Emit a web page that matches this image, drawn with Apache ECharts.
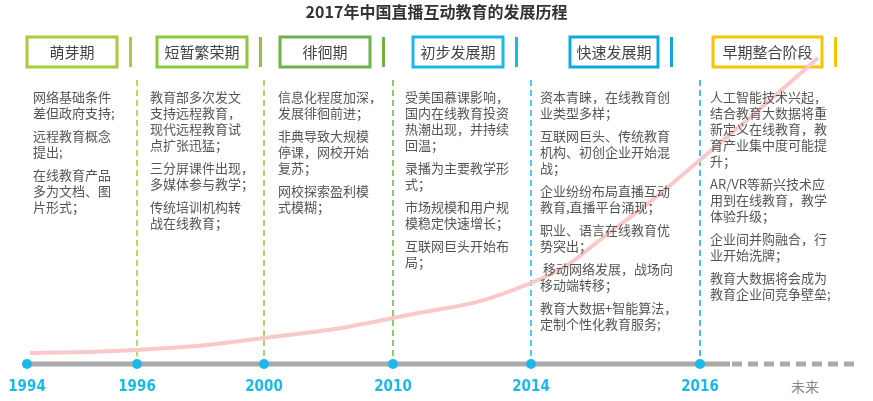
<!DOCTYPE html>
<html>
<head>
<meta charset="utf-8">
<script src="https://cdn.jsdelivr.net/npm/echarts@6/dist/echarts.min.js"></script>
<style>html,body{margin:0;padding:0;background:#fff}#main{width:873px;height:401px}</style>
</head>
<body>
<div id="main"></div>
<script>
var title = '2017年中国直播互动教育的发展历程';
var years = ['1994', '1996', '2000', '2010', '2014', '2016'];
var yearX = [27, 137, 264, 393, 531, 700];
var stages = ['萌芽期', '短暂繁荣期', '徘徊期', '初步发展期', '快速发展期', '早期整合阶段'];
var stageColors = ['#a8cc3c', '#8dc641', '#6db34a', '#1cb8e6', '#12a8dc', '#f6c500'];
// 发展趋势曲线
var trendX = [30, 137, 264, 393, 531, 617, 700, 818];
var trendY = [353, 350, 338, 318, 283, 227, 160, 58];
var notes = [
    [['网络基础条件', '差但政府支持;'], ['远程教育概念', '提出;'], ['在线教育产品', '多为文档、图', '片形式；']],
    [['教育部多次发文', '支持远程教育，', '现代远程教育试', '点扩张迅猛；'], ['三分屏课件出现，', '多媒体参与教学；'], ['传统培训机构转', '战在线教育；']],
    [['信息化程度加深，', '发展徘徊前进；'], ['非典导致大规模', '停课，网校开始', '复苏；'], ['网校探索盈利模', '式模糊；']],
    [['受美国慕课影响，', '国内在线教育投资', '热潮出现，并持续', '回温；'], ['录播为主要教学形', '式；'], ['市场规模和用户规', '模稳定快速增长；'], ['互联网巨头开始布', '局；']],
    [['资本青睐，在线教育创', '业类型多样；'], ['互联网巨头、传统教育', '机构、初创企业开始混', '战；'], ['企业纷纷布局直播互动', '教育,直播平台涌现；'], ['职业、语言在线教育优', '势突出；'], [' 移动网络发展，战场向', '移动端转移；'], ['教育大数据+智能算法，', '定制个性化教育服务;']],
    [['人工智能技术兴起，', '结合教育大数据将重', '新定义在线教育，教', '育产业集中度可能提', '升；'], ['AR/VR等新兴技术应', '用到在线教育，教学', '体验升级；'], ['企业间并购融合，行', '业开始洗牌；'], ['教育大数据将会成为', '教育企业间竞争壁垒;']]
];
var boxLeft = [27, 157, 280, 413, 570, 713];
var boxWidth = [90, 90, 90, 90, 88, 109];
var noteX = [33, 150, 278, 405, 540, 710];
var dashColors = ['#a8cc3c', '#8dc641', '#6db34a', '#1cb8e6', '#12a8dc'];

var chart = echarts.init(document.getElementById('main'));
var font = '"Noto Sans CJK SC", sans-serif';
var graphics = [];

graphics.push({type: 'text', left: 'center', top: 4, style: {text: title, font: 'bold 16px ' + font, fill: '#333'}});

stages.forEach(function (s, i) {
    graphics.push({type: 'rect', shape: {x: boxLeft[i], y: 37, width: boxWidth[i], height: 30},
        style: {fill: '#fff', stroke: stageColors[i], lineWidth: 3}});
    graphics.push({type: 'text', x: boxLeft[i] + boxWidth[i] / 2, y: 52,
        style: {text: s, font: '15px ' + font, fill: '#444', align: 'center', verticalAlign: 'middle'}});
    var bx = boxLeft[i] + boxWidth[i] + 12;
    graphics.push({type: 'rect', shape: {x: bx, y: 37, width: 3, height: 30}, style: {fill: stageColors[i]}});
});

dashColors.forEach(function (c, i) {
    graphics.push({type: 'line', shape: {x1: yearX[i + 1], y1: 80, x2: yearX[i + 1], y2: 362},
        style: {stroke: c, lineWidth: 1.5, lineDash: [6, 4]}});
});

notes.forEach(function (col, i) {
    var y = 89;
    col.forEach(function (p) {
        graphics.push({type: 'text', x: noteX[i], y: y, z: 10,
            style: {text: p.join('\n'), font: '13px ' + font, fill: '#555', lineHeight: 16}});
        y += p.length * 16 + 7;
    });
});

// 时间轴
graphics.push({type: 'line', shape: {x1: 25, y1: 364, x2: 730, y2: 364}, style: {stroke: '#aaa', lineWidth: 5}, z: 5});
graphics.push({type: 'line', shape: {x1: 732, y1: 364, x2: 856, y2: 364}, style: {stroke: '#aaa', lineWidth: 5, lineDash: [10, 6]}, z: 5});
years.forEach(function (y, i) {
    graphics.push({type: 'circle', shape: {cx: yearX[i], cy: 364, r: 5}, style: {fill: '#1cb8e6'}, z: 6});
    graphics.push({type: 'text', x: yearX[i], y: 387,
        style: {text: y, font: 'bold 15px "Liberation Sans Narrow", "DejaVu Sans Condensed", sans-serif', fill: '#1cb8e6', align: 'center', verticalAlign: 'middle'}});
});
graphics.push({type: 'text', x: 805, y: 387, style: {text: '未来', font: '14px ' + font, fill: '#888', align: 'center', verticalAlign: 'middle'}});

chart.setOption({
    animation: false,
    grid: {left: 0, right: 0, top: 0, bottom: 0},
    xAxis: {type: 'value', min: 0, max: 873, show: false},
    yAxis: {type: 'value', min: 0, max: 401, inverse: true, show: false},
    series: [{
        type: 'line',
        smooth: true,
        symbol: 'none',
        z: 1,
        lineStyle: {color: '#f9c8c8', width: 4},
        data: trendX.map(function (x, i) { return [x, trendY[i]]; })
    }],
    graphic: graphics
});
</script>
</body>
</html>
